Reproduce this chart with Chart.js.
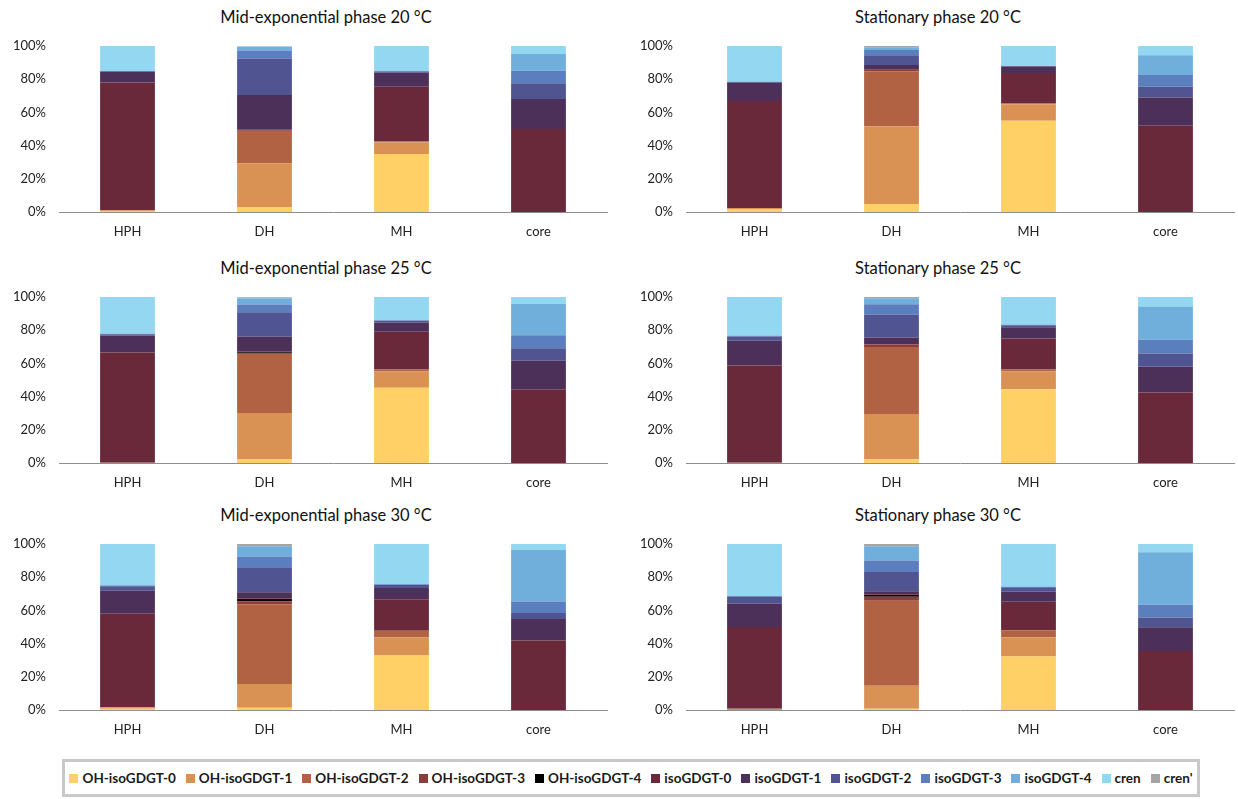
<!DOCTYPE html>
<html>
<head>
<meta charset="utf-8">
<script src="https://cdn.jsdelivr.net/npm/chart.js@4"></script>
<style>
  body { margin: 0; background: #fff; width: 1238px; height: 799px; position: relative; overflow: hidden; font-family: Lato, sans-serif; }
  .panel { position: absolute; height: 250px; }
  .ptitle { position: absolute; width: 400px; text-align: center; font-size: 16.5px; color: #111; line-height: 20px; }
  .legend { position: absolute; left: 62px; top: 759px; width: 1132px; height: 32px; border: 3px solid #c9c9c9;
            display: flex; align-items: center; justify-content: center; font-size: 13.5px; font-weight: bold; color: #1a1a1a; }
  .legend span.item { display: inline-flex; align-items: center; margin: 0 5px; white-space: nowrap; }
  .legend span.sw { width: 9px; height: 9px; display: inline-block; margin-right: 4px; }
</style>
</head>
<body>
<div id="panels"></div>
<div class="legend" id="legend"></div>
<script>
const seriesNames = ['OH-isoGDGT-0', 'OH-isoGDGT-1', 'OH-isoGDGT-2', 'OH-isoGDGT-3', 'OH-isoGDGT-4',
    'isoGDGT-0', 'isoGDGT-1', 'isoGDGT-2', 'isoGDGT-3', 'isoGDGT-4', 'cren', "cren'"];
const seriesColors = ['#FFD065', '#D99254', '#B06242', '#8E3B3B', '#000000',
    '#69293B', '#4C3059', '#505592', '#5B7FBE', '#70AEDC', '#93D7F0', '#A5A5A5'];
const groups = ['HPH', 'DH', 'MH', 'core'];

// one row per group (HPH, DH, MH, core), values in seriesNames order
const mid20 = [
    [0.3, 0.7, 0, 0, 0, 77, 6.3, 0.5, 0.2, 0, 15, 0],
    [3, 26.3, 19.5, 0.4, 0.1, 0.3, 20.9, 22, 4.8, 2.2, 0.3, 0.2],
    [35, 6.9, 0.5, 0, 0, 33, 8.5, 0.8, 0.3, 0, 15, 0],
    [0, 0, 0, 0, 0, 50, 18, 9.5, 7.6, 10.1, 4.8, 0]
];
const stat20 = [
    [1.5, 0.9, 0, 0, 0, 64.5, 11, 0.4, 0.2, 0, 21.5, 0],
    [4.8, 46.8, 33, 1.1, 0, 0.4, 2.5, 5.8, 3.2, 1.7, 0, 0.7],
    [55, 9.9, 0.5, 0, 0, 18.3, 3.9, 0.4, 0, 0, 12, 0],
    [0, 0, 0, 0, 0, 52, 17, 6.5, 7, 12, 5.5, 0]
];
const mid25 = [
    [0, 0.2, 0, 0, 0, 66.3, 10.3, 0.7, 0.3, 0, 22.2, 0],
    [2.4, 27.7, 35.6, 0.3, 0.7, 0.3, 9, 14.8, 4.7, 3.7, 0.3, 0.5],
    [45.3, 10, 1.1, 0, 0, 22.6, 5.6, 1.1, 0.3, 0, 14, 0],
    [0, 0, 0, 0, 0, 44.4, 17.2, 7.5, 7.9, 19, 4, 0]
];
const stat25 = [
    [0, 0.2, 0, 0, 0, 58.6, 14.9, 2.5, 0.5, 0, 23.3, 0],
    [2.2, 27.3, 40.4, 1.4, 0, 0.3, 4, 13.9, 6.1, 3.7, 0, 0.7],
    [44.4, 10.8, 1.1, 0, 0, 18.7, 6.8, 1.2, 0.3, 0, 16.7, 0],
    [0, 0, 0, 0, 0, 42.4, 15.6, 7.9, 8.4, 20, 5.7, 0]
];
const mid30 = [
    [0.8, 0.8, 0, 0, 0, 56.4, 13.9, 2.6, 0.5, 0.5, 24.5, 0],
    [1.4, 14.3, 48, 1.8, 1.3, 0.5, 3.6, 15.1, 6.4, 6.2, 0, 1.4],
    [32.9, 10.9, 4, 0, 0, 18.9, 6.8, 1.8, 0.5, 0, 24.2, 0],
    [0, 0, 0, 0, 0, 41.8, 13, 3.6, 6.9, 31.1, 3.6, 0]
];
const stat30 = [
    [0, 0.8, 0, 0, 0, 49.2, 14, 4.4, 0.3, 0, 31.3, 0],
    [0.8, 13.8, 51.2, 2.4, 1.1, 0.5, 1.8, 11.6, 6.9, 8.5, 0, 1.4],
    [32.2, 11.7, 4.1, 0, 0, 17.2, 6.1, 2.2, 0.8, 0, 25.7, 0],
    [0, 0, 0, 0, 0, 35.6, 14.2, 5.9, 7.7, 31.7, 4.9, 0]
];

const panels = [
    { title: 'Mid-exponential phase 20 °C', rows: mid20 },
    { title: 'Stationary phase 20 °C', rows: stat20 },
    { title: 'Mid-exponential phase 25 °C', rows: mid25 },
    { title: 'Stationary phase 25 °C', rows: stat25 },
    { title: 'Mid-exponential phase 30 °C', rows: mid30 },
    { title: 'Stationary phase 30 °C', rows: stat30 }
];

Chart.defaults.font.family = 'Lato, sans-serif';
Chart.defaults.color = '#333';

const rowTops = [0, 251, 498];

function buildDatasets(rows) {
    const totals = rows.map(r => r.reduce((a, b) => a + b, 0));
    return seriesNames.map((name, i) => ({
        label: name,
        data: rows.map((r, g) => r[i] / totals[g] * 100),
        backgroundColor: seriesColors[i],
        borderWidth: 0,
        barPercentage: 0.4,
        categoryPercentage: 1
    }));
}

panels.forEach((p, idx) => {
    const col = idx % 2;
    const row = Math.floor(idx / 2);
    const left = col === 0 ? 0 : 620;
    const top = rowTops[row];

    // title, centred over the whole chart object as in the original
    const t = document.createElement('div');
    t.className = 'ptitle';
    t.textContent = p.title;
    t.style.left = ((col === 0 ? 326 : 938) - 200) + 'px';
    t.style.top = (top + 7) + 'px';
    document.getElementById('panels').appendChild(t);

    const div = document.createElement('div');
    div.className = 'panel';
    div.style.left = left + 'px';
    div.style.top = top + 'px';
    div.style.width = (col === 0 ? 620 : 618) + 'px';
    const canvas = document.createElement('canvas');
    div.appendChild(canvas);
    document.getElementById('panels').appendChild(div);

    const plotLeft = col === 0 ? 59 : 66;
    const padRight = col === 0 ? 13 : 4;

    new Chart(canvas, {
        type: 'bar',
        data: { labels: groups, datasets: buildDatasets(p.rows) },
        options: {
            responsive: true,
            maintainAspectRatio: false,
            animation: false,
            layout: { padding: { left: 0, right: padRight, top: 46, bottom: 0 } },
            plugins: {
                legend: { display: false },
                tooltip: { enabled: false }
            },
            scales: {
                x: {
                    stacked: true,
                    grid: { display: false, drawTicks: false },
                    border: { display: true, color: '#8e8e8e', width: 1 },
                    ticks: { padding: 12, font: { size: 13 }, color: '#222' },
                    afterFit: s => { s.height = 38; }
                },
                y: {
                    stacked: true,
                    min: 0,
                    max: 100,
                    grid: { display: false, drawTicks: false },
                    border: { display: false },
                    ticks: { stepSize: 20, padding: 13, font: { size: 13 }, color: '#222', callback: v => v + '%' },
                    afterFit: s => { s.width = plotLeft; }
                }
            }
        }
    });
});

// legend
const legend = document.getElementById('legend');
seriesNames.forEach((name, i) => {
    const item = document.createElement('span');
    item.className = 'item';
    item.innerHTML = '<span class="sw" style="background:' + seriesColors[i] + '"></span>' + name;
    legend.appendChild(item);
});
</script>
</body>
</html>
